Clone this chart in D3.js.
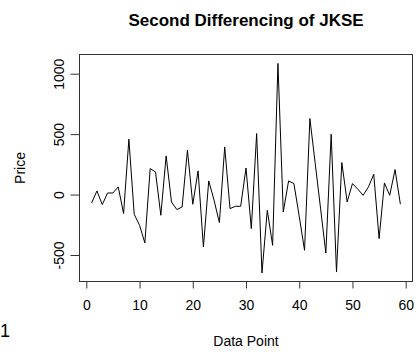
<!DOCTYPE html>
<html>
<head>
<meta charset="utf-8">
<script src="https://cdn.jsdelivr.net/npm/d3@7"></script>
<style>
body { margin: 0; background: #fff; }
text { font-family: "Liberation Sans", Arial, sans-serif; fill: #000; }
</style>
</head>
<body>
<div id="chart"></div>
<script>
// second difference values
var price = [-69, 30, -83, 13, 13, 63, -157, 458, -163, -254,
  -400, 215, 187, -171, 320, -61, -124, -103, 367, -80,
  196, -434, 113, -47, -232, 394, -116, -97, -97, 220,
  -282, 505, -649, -130, -420, 1085, -144, 113, 91, -180,
  -461, 629, 258, -112, -483, 499, -641, 265, -61, 91,
  45, -6, 63, 168, -364, 96, -6, 207, -80]
var xTicks = [0, 10, 20, 30, 40, 50, 60]
var yTicks = [-500, 0, 500, 1000]

var data = price.map(function (d, i) { return {n: i + 1, score: d} })

var width = 418, height = 352
var box = {left: 79.5, right: 412.5, top: 54.5, bottom: 281.5}

var svg = d3.select("#chart").append("svg")
    .attr("width", width)
    .attr("height", height)

var x = d3.scaleLinear().domain([0, 60]).range([86.3, 405.7])
var y = d3.scaleLinear().domain([-500, 1000]).range([255, 73.7])

var valueline = d3.line()
    .x(function (d) { return x(d.n) })
    .y(function (d) { return y(d.score) })

svg.append("path")
    .datum(data)
    .attr("fill", "none")
    .attr("stroke", "#000")
    .attr("stroke-width", 1)
    .attr("d", valueline)

// plot box
svg.append("rect")
    .attr("x", box.left).attr("y", box.top)
    .attr("width", box.right - box.left)
    .attr("height", box.bottom - box.top)
    .attr("fill", "none")
    .attr("stroke", "#333")

// plain labels with ascii minus, like R
var plain = function (d) { return String(d) }

// x axis
var xAxis = svg.append("g")
    .attr("transform", "translate(0," + box.bottom + ")")
    .call(d3.axisBottom(x).tickValues(xTicks).tickFormat(plain).tickSize(7).tickPadding(12).tickSizeOuter(0))
xAxis.select(".domain").remove()
xAxis.selectAll("line").attr("stroke", "#333")
xAxis.selectAll("text").attr("font-size", 14).attr("font-family", "Liberation Sans, Arial, sans-serif").attr("fill", "#000")

// y axis, labels rotated like base R
var yAxis = svg.append("g")
    .attr("transform", "translate(" + box.left + ",0)")
    .call(d3.axisLeft(y).tickValues(yTicks).tickFormat(plain).tickSize(9).tickSizeOuter(0))
yAxis.select(".domain").remove()
yAxis.selectAll("line").attr("stroke", "#333")
yAxis.selectAll("text")
    .attr("font-size", 14)
    .attr("font-family", "Liberation Sans, Arial, sans-serif")
    .attr("fill", "#000")
    .attr("x", null).attr("dy", null)
    .attr("text-anchor", "middle")
    .attr("transform", "translate(-16,0) rotate(-90)")

svg.append("text")
    .attr("x", 246).attr("y", 26)
    .attr("text-anchor", "middle")
    .attr("font-size", 17)
    .attr("font-weight", "bold")
    .text("Second Differencing of JKSE")

svg.append("text")
    .attr("x", 246).attr("y", 346)
    .attr("text-anchor", "middle")
    .attr("font-size", 14)
    .text("Data Point")

svg.append("text")
    .attr("transform", "translate(25," + ((box.top + box.bottom) / 2) + ") rotate(-90)")
    .attr("text-anchor", "middle")
    .attr("font-size", 14)
    .text("Price")

svg.append("text")
    .attr("x", 0).attr("y", 337)
    .attr("font-size", 18)
    .text("1")
</script>
</body>
</html>
